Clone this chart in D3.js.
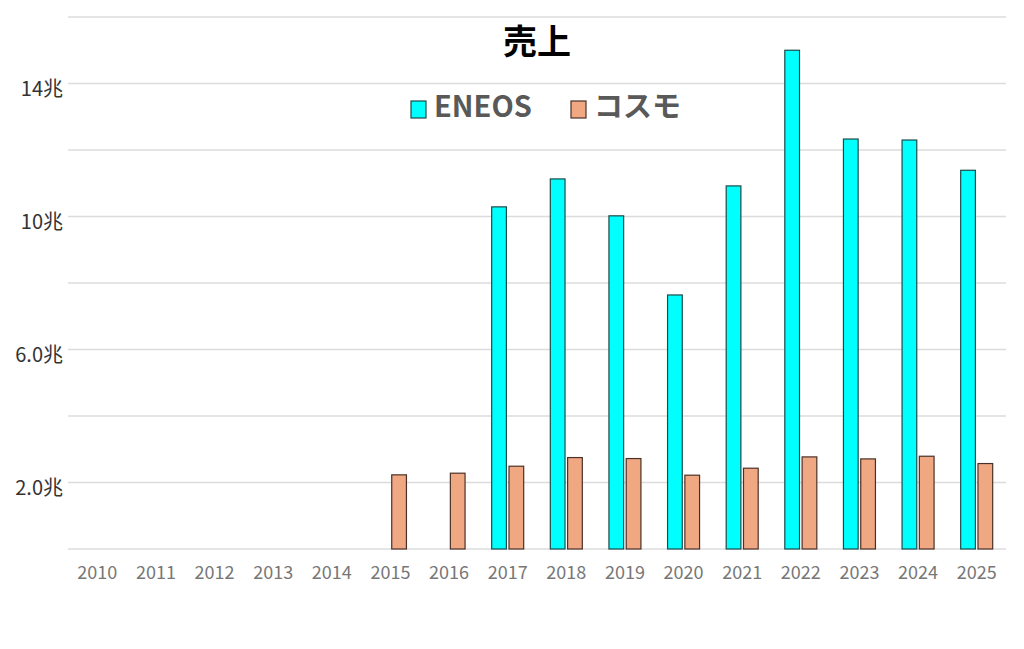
<!DOCTYPE html>
<html><head><meta charset="utf-8">
<script src="https://cdn.jsdelivr.net/npm/d3@7"></script>
<style>body{margin:0;background:#fff}svg{display:block}</style>
</head><body><svg id="c" width="1024" height="649"></svg>
<script>
const years = ["2010","2011","2012","2013","2014","2015","2016","2017","2018","2019","2020","2021","2022","2023","2024","2025"];
const eneos = [null,null,null,null,null,null,null,10.29,11.13,10.02,7.64,10.92,15.0,12.33,12.30,11.39];
const cosmo = [null,null,null,null,null,2.23,2.28,2.49,2.75,2.72,2.22,2.43,2.77,2.71,2.79,2.57];
const seriesNames = ["ENEOS","コスモ"];
const seriesColors = ["#00FFFF","#F0A883"];
const strokeColors = ["#1d4a4a","#4a3128"];
const gridValues = [0,2,4,6,8,10,12,14,16];
const labeledTicks = [2,6,10,14];
const tickLabel = v => (v < 10 ? v.toFixed(1) : String(v)) + "兆";

const svg = d3.select("#c");
const font = "'Noto Sans CJK JP','Noto Sans',sans-serif";
const m = {l:68, r:1006, t:17, b:549};
const x = d3.scaleBand().domain(years).range([m.l, m.r]);
const y = d3.scaleLinear().domain([0,16]).range([m.b, m.t]);
const sub = d3.scaleBand().domain([0,1]).range([-16, 16]).paddingInner(0.15);

svg.append("g").selectAll("line").data(gridValues).join("line")
  .attr("x1", m.l).attr("x2", m.r)
  .attr("y1", d => y(d)).attr("y2", d => y(d))
  .attr("stroke", "#dcdcdc").attr("stroke-width", 1.3);

svg.append("g").selectAll("text").data(labeledTicks).join("text")
  .attr("x", 63).attr("y", d => y(d) + 7)
  .attr("text-anchor", "end").attr("dominant-baseline", "middle")
  .attr("font-family", font).attr("font-size", 20).attr("fill", "#333")
  .text(tickLabel);

svg.append("g").selectAll("text").data(years).join("text")
  .attr("x", d => x(d) + x.bandwidth()/2).attr("y", 574)
  .attr("text-anchor", "middle").attr("dominant-baseline", "middle")
  .attr("font-family", font).attr("font-size", 18).attr("fill", "#777")
  .text(d => d);

[eneos, cosmo].forEach((vals, si) => {
  svg.append("g").selectAll("rect").data(years.map((yr,i)=>({yr, v: vals[i]})).filter(d => d.v != null)).join("rect")
    .attr("x", d => x(d.yr) + x.bandwidth()/2 + sub(si))
    .attr("width", sub.bandwidth())
    .attr("y", d => y(d.v))
    .attr("height", d => y(0) - y(d.v))
    .attr("fill", seriesColors[si])
    .attr("stroke", strokeColors[si]).attr("stroke-width", 1.2);
});

svg.append("text").attr("x", 537).attr("y", 45)
  .attr("text-anchor", "middle").attr("dominant-baseline", "middle")
  .attr("font-family", font).attr("font-size", 34).attr("font-weight", "bold").attr("fill", "#000")
  .text("売上");

const legendX = [411, 571];
seriesNames.forEach((n, i) => {
  svg.append("rect").attr("x", legendX[i]).attr("y", 101).attr("width", 15).attr("height", 17)
    .attr("fill", seriesColors[i]).attr("stroke", strokeColors[i]).attr("stroke-width", 1.2);
  svg.append("text").attr("x", legendX[i] + 23).attr("y", 109)
    .attr("dominant-baseline", "middle")
    .attr("font-family", font).attr("font-size", 29).attr("font-weight", "bold").attr("fill", "#595959")
    .text(n);
});
</script></body></html>
